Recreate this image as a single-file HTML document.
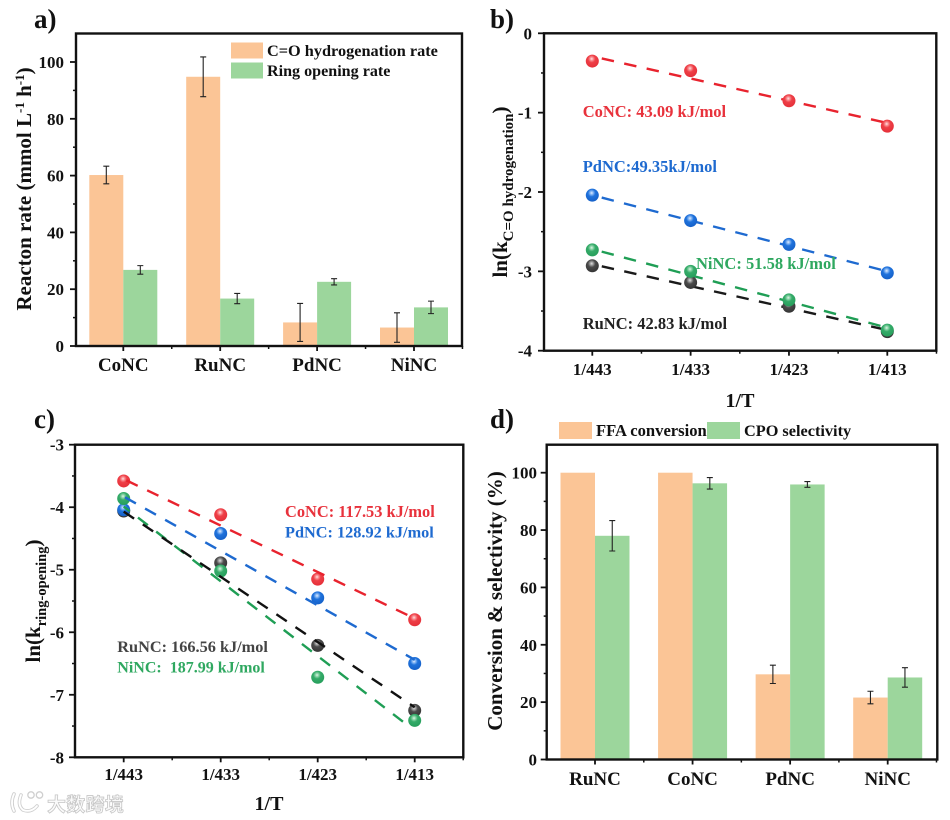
<!DOCTYPE html>
<html lang="en">
<head>
<meta charset="utf-8">
<title>Catalyst reaction rates and activation energies</title>
<style>
html,body{margin:0;padding:0;background:#fff;width:950px;height:820px;overflow:hidden}
svg{display:block;font-family:"Liberation Serif","Noto Serif CJK SC",serif;font-weight:bold;filter:blur(.35px)}
text{fill:#111;white-space:pre}
</style>
</head>
<body>
<svg id="chart" xmlns="http://www.w3.org/2000/svg" width="950" height="820" viewBox="0 0 950 820">
<defs>
<radialGradient id="ball-red" cx="45%" cy="33%" r="68%"><stop offset="0" stop-color="#ffe3e3"/><stop offset=".2" stop-color="#f98a8e"/><stop offset=".42" stop-color="#ee3f47"/><stop offset="1" stop-color="#e52f38"/></radialGradient>
<radialGradient id="ball-blue" cx="45%" cy="33%" r="68%"><stop offset="0" stop-color="#e0edff"/><stop offset=".2" stop-color="#7fb2f2"/><stop offset=".42" stop-color="#1f72dc"/><stop offset="1" stop-color="#1560c8"/></radialGradient>
<radialGradient id="ball-green" cx="45%" cy="33%" r="68%"><stop offset="0" stop-color="#dff5e7"/><stop offset=".2" stop-color="#86d2a4"/><stop offset=".42" stop-color="#35ab69"/><stop offset="1" stop-color="#269e5b"/></radialGradient>
<radialGradient id="ball-black" cx="45%" cy="33%" r="68%"><stop offset="0" stop-color="#e2e2e2"/><stop offset=".2" stop-color="#999"/><stop offset=".42" stop-color="#4b4b4b"/><stop offset="1" stop-color="#333"/></radialGradient>
</defs>
</svg>
<script>
// ---------- Panel a data ----------
const rateCategories = ['CoNC', 'RuNC', 'PdNC', 'NiNC'];
const hydrogenationRate = [60.2, 94.8, 8.3, 6.5];
const hydrogenationError = [3.1, 7, 6.7, 5.2];
const ringOpeningRate = [26.8, 16.7, 22.6, 13.6];
const ringOpeningError = [1.5, 1.8, 1.1, 2.2];
const rateTicks = [0, 20, 40, 60, 80, 100];
const rateMinorTicks = [10, 30, 50, 70, 90];

// ---------- Shared temperature categories ----------
const temperatureLabels = ['1/443', '1/433', '1/423', '1/413'];

// ---------- Panel b data ----------
const hydroCo = [-0.35, -0.47, -0.85, -1.17];
const hydroPd = [-2.04, -2.36, -2.66, -3.02];
const hydroNi = [-2.73, -3.0, -3.36, -3.74];
const hydroRu = [-2.93, -3.14, -3.44, -3.76];
const hydroFitCo = [-0.29, -1.13];
const hydroFitPd = [-2.04, -3.0];
const hydroFitNi = [-2.72, -3.71];
const hydroFitRu = [-2.91, -3.74];
const hydroTicks = [0, -1, -2, -3, -4];
const hydroMinorTicks = [-0.5, -1.5, -2.5, -3.5];

// ---------- Panel c data ----------
const ringCo = [-3.58, -4.12, -5.15, -5.80];
const ringPd = [-4.04, -4.42, -5.45, -6.5];
const ringRu = [-4.06, -4.89, -6.21, -7.25];
const ringNi = [-3.86, -5.02, -6.72, -7.41];
const ringFitCo = [-3.55, -5.78];
const ringFitPd = [-3.83, -6.44];
const ringFitRu = [-4.07, -7.2];
const ringFitNi = [-3.99, -7.48];
const ringTicks = [-3, -4, -5, -6, -7, -8];
const ringMinorTicks = [-3.5, -4.5, -5.5, -6.5, -7.5];

// ---------- Panel d data ----------
const conversionCategories = ['RuNC', 'CoNC', 'PdNC', 'NiNC'];
const ffaConversion = [100, 100, 29.7, 21.6];
const ffaError = [0, 0, 3.2, 2.2];
const cpoSelectivity = [78, 96.3, 95.9, 28.6];
const cpoError = [5.3, 2, 1, 3.4];
const conversionTicks = [0, 20, 40, 60, 80, 100];
const conversionMinorTicks = [10, 30, 50, 70, 90];

const SVG_NS = 'http://www.w3.org/2000/svg';
const root = document.getElementById('chart');
const ORANGE = '#fbc596';
const GREEN = '#9cd69c';

function make(tag, props, parent) {
  const el = document.createElementNS(SVG_NS, tag);
  for (const k in props) el.setAttribute(k, props[k]);
  (parent || root).appendChild(el);
  return el;
}
function linear(d0, d1, r0, r1) {
  return function (v) { return r0 + (v - d0) * (r1 - r0) / (d1 - d0); };
}
function label(str, x, y, size, anchor, fill, name) {
  const t = make('text', {x: x, y: y, 'font-size': size, 'text-anchor': anchor || 'start', fill: fill || '#111', style: 'fill:' + (fill || '#111')});
  t.textContent = str;
  
  
  return t;
}
function rotatedTitle(parts, x, y, size, name) {
  const t = make('text', {transform: 'translate(' + x + ',' + y + ') rotate(-90)', 'font-size': size, 'text-anchor': 'middle'});
  
  
  parts.forEach(function (p) {
    const s = make('tspan', {'font-size': p.size || size, dy: p.dy || 0}, t);
    s.textContent = p.text;
  });
  return t;
}
function frame(box, name) {
  const r = make('rect', {x: box.l, y: box.t, width: box.r - box.l, height: box.b - box.t, fill: 'none', stroke: '#111', 'stroke-width': 2.4});
  
  
}
function yTicks(box, y, majors, minors, labelRight, size, panel) {
  majors.forEach(function (v) {
    const tick = make('line', {x1: box.l, x2: box.l - 6, y1: y(v), y2: y(v), stroke: '#111', 'stroke-width': 1.8});
    
    
    label(String(v), labelRight, y(v) + 6, size, 'end', '#111', panel + '-y-tick-label');
  });
  minors.forEach(function (v) {
    const tick = make('line', {x1: box.l, x2: box.l - 3, y1: y(v), y2: y(v), stroke: '#111', 'stroke-width': 1.5});
    
    
  });
}
function xTicks(box, x, labels, baseline, size, panel) {
  labels.forEach(function (s, i) {
    const tick = make('line', {x1: x(i), x2: x(i), y1: box.b, y2: box.b + 5, stroke: '#111', 'stroke-width': 1.8});
    
    
    label(s, x(i), baseline, size, 'middle', '#111', panel + '-x-tick-label');
    const minor = make('line', {x1: x(i + 0.5), x2: x(i + 0.5), y1: box.b, y2: box.b + 3, stroke: '#111', 'stroke-width': 1.5});
    
    
  });
}
function bars(x, y, values, errors, offset, width, fill, series, cats) {
  values.forEach(function (v, i) {
    const left = x(i) + offset;
    const bar = make('rect', {x: left, y: y(v), width: width, height: y(0) - y(v), fill: fill});
    
    
  });
  values.forEach(function (v, i) {
    if (!errors[i]) return;
    const cx = x(i) + offset + width / 2;
    const top = y(v + errors[i]);
    const bot = y(v - errors[i]);
    const err = make('path', {d: 'M' + (cx - 3) + ' ' + top + 'H' + (cx + 3) + 'M' + cx + ' ' + top + 'V' + bot + 'M' + (cx - 3) + ' ' + bot + 'H' + (cx + 3), fill: 'none', stroke: '#222', 'stroke-width': 1.1});
    
    
  });
}
function fitLine(x, y, fit, endPos, color, phase, name) {
  const ln = make('line', {x1: x(0), y1: y(fit[0]), x2: x(endPos), y2: y(fit[1]), stroke: color, 'stroke-width': 2.4, 'stroke-dasharray': '12.5 10.5', 'stroke-dashoffset': -phase});
  
  
}
function points(x, y, values, ball, name) {
  values.forEach(function (v, i) {
    const c = make('circle', {cx: x(i), cy: y(v), r: 6.5, fill: 'url(#' + ball + ')'});
    
    
  });
}
function swatch(x, y, w, h, fill, name) {
  const s = make('rect', {x: x, y: y, width: w, height: h, fill: fill});
  
  
}

// ---------- Panel a ----------
(function () {
  const box = {l: 76, r: 462, t: 33.5, b: 346};
  const y = linear(0, 100, 346, 62);
  const x = linear(0, 3, 123.3, 414);
  bars(x, y, hydrogenationRate, hydrogenationError, -34, 34, ORANGE, 'hydrogenation', rateCategories);
  bars(x, y, ringOpeningRate, ringOpeningError, 0, 34, GREEN, 'ring-opening', rateCategories);
  frame(box, 'panel-a-frame');
  yTicks(box, y, rateTicks, rateMinorTicks, 64, 17, 'panel-a');
  xTicks(box, x, rateCategories, 371, 19, 'panel-a');
  rotatedTitle([
    {text: 'Reacton rate (mmol L'},
    {text: '-1', size: 13, dy: -7},
    {text: ' h', dy: 7},
    {text: '-1', size: 13, dy: -7},
    {text: ')', dy: 7}
  ], 31, 189, 21, 'panel-a-y-axis-title');
  label('a)', 34, 28, 27, 'start', '#111', 'panel-a-label');
  swatch(231, 42.5, 32, 16, ORANGE, 'legend-swatch-hydrogenation');
  swatch(231, 62.5, 32, 16, GREEN, 'legend-swatch-ring-opening');
  label('C=O hydrogenation rate', 267, 56, 16.3, 'start', '#111', 'legend-entry-hydrogenation');
  label('Ring opening rate', 267, 76, 16.1, 'start', '#111', 'legend-entry-ring-opening');
})();

// ---------- Panel b ----------
(function () {
  const box = {l: 544, r: 936.3, t: 33.3, b: 350.7};
  const y = linear(0, -4, 33.3, 350.7);
  const x = linear(0, 3, 592.3, 887.3);
  fitLine(x, y, hydroFitCo, 3, '#e8232e', 9.7, 'fit-line-conc-b');
  fitLine(x, y, hydroFitPd, 3, '#1e6ad0', 9.7, 'fit-line-pdnc-b');
  fitLine(x, y, hydroFitRu, 3, '#1a1a1a', 9.7, 'fit-line-runc-b');
  fitLine(x, y, hydroFitNi, 3, '#1f9e55', 9.7, 'fit-line-ninc-b');
  points(x, y, hydroRu, 'ball-black', 'point-runc-b');
  points(x, y, hydroNi, 'ball-green', 'point-ninc-b');
  points(x, y, hydroPd, 'ball-blue', 'point-pdnc-b');
  points(x, y, hydroCo, 'ball-red', 'point-conc-b');
  frame(box, 'panel-b-frame');
  yTicks(box, y, hydroTicks, hydroMinorTicks, 532, 17, 'panel-b');
  xTicks(box, x, temperatureLabels, 375, 17, 'panel-b');
  rotatedTitle([
    {text: 'ln(k'},
    {text: 'C=O hydrogenation', size: 15, dy: 6},
    {text: ')', dy: -6}
  ], 507, 192, 21, 'panel-b-y-axis-title');
  label('1/T', 740, 407, 20, 'middle', '#111', 'panel-b-x-axis-title');
  label('b)', 490, 28, 27, 'start', '#111', 'panel-b-label');
  label('CoNC: 43.09 kJ/mol', 582.7, 117, 16.5, 'start', '#e8323c', 'annotation-conc-b');
  label('PdNC:49.35kJ/mol', 582.7, 172, 16.5, 'start', '#1e6ad0', 'annotation-pdnc-b');
  label('NiNC: 51.58 kJ/mol', 696, 269, 16.5, 'start', '#2fa860', 'annotation-ninc-b');
  label('RuNC: 42.83 kJ/mol', 582.7, 329, 16.5, 'start', '#222', 'annotation-runc-b');
})();

// ---------- Panel c ----------
(function () {
  const box = {l: 75, r: 463.3, t: 444.7, b: 757.3};
  const y = linear(-3, -8, 444.7, 757.3);
  const x = linear(0, 3, 123.7, 414.7);
  points(x, y, ringRu, 'ball-black', 'point-runc-c');
  points(x, y, ringPd, 'ball-blue', 'point-pdnc-c');
  points(x, y, ringNi, 'ball-green', 'point-ninc-c');
  points(x, y, ringCo, 'ball-red', 'point-conc-c');
  fitLine(x, y, ringFitCo, 3, '#e8232e', 3, 'fit-line-conc-c');
  fitLine(x, y, ringFitPd, 3, '#1e6ad0', 1.5, 'fit-line-pdnc-c');
  fitLine(x, y, ringFitNi, 2.92, '#1f9e55', 18, 'fit-line-ninc-c');
  fitLine(x, y, ringFitRu, 3, '#111', 0, 'fit-line-runc-c');
  frame(box, 'panel-c-frame');
  yTicks(box, y, ringTicks, ringMinorTicks, 64, 17, 'panel-c');
  xTicks(box, x, temperatureLabels, 780, 17, 'panel-c');
  rotatedTitle([
    {text: 'ln(k'},
    {text: 'ring-opening', size: 14.5, dy: 6},
    {text: ')', dy: -6}
  ], 40, 601, 21, 'panel-c-y-axis-title');
  label('1/T', 269, 810, 20, 'middle', '#111', 'panel-c-x-axis-title');
  label('c)', 34, 428, 27, 'start', '#111', 'panel-c-label');
  label('CoNC: 117.53 kJ/mol', 285, 517, 16.4, 'start', '#e8323c', 'annotation-conc-c');
  label('PdNC: 128.92 kJ/mol', 285, 537.5, 16.3, 'start', '#1e6ad0', 'annotation-pdnc-c');
  label('RuNC: 166.56 kJ/mol', 117.3, 652, 16.3, 'start', '#444', 'annotation-runc-c');
  label('NiNC:  187.99 kJ/mol', 117.3, 672.5, 16, 'start', '#2fa860', 'annotation-ninc-c');
})();

// ---------- Panel d ----------
(function () {
  const box = {l: 546.7, r: 937.3, t: 444.7, b: 759.5};
  const y = linear(0, 100, 759.5, 472.7);
  const x = linear(0, 3, 595, 887.7);
  bars(x, y, ffaConversion, ffaError, -34.5, 34.5, ORANGE, 'ffa-conversion', conversionCategories);
  bars(x, y, cpoSelectivity, cpoError, 0, 34.5, GREEN, 'cpo-selectivity', conversionCategories);
  frame(box, 'panel-d-frame');
  yTicks(box, y, conversionTicks, conversionMinorTicks, 537, 17, 'panel-d');
  xTicks(box, x, conversionCategories, 785, 19, 'panel-d');
  rotatedTitle([{text: 'Conversion & selectivity (%)'}], 502, 601, 21, 'panel-d-y-axis-title');
  label('d)', 490, 428, 27, 'start', '#111', 'panel-d-label');
  swatch(559, 422, 33, 17, ORANGE, 'legend-swatch-ffa-conversion');
  swatch(707, 422, 33, 17, GREEN, 'legend-swatch-cpo-selectivity');
  label('FFA conversion', 596, 436, 16.6, 'start', '#111', 'legend-entry-ffa-conversion');
  label('CPO selectivity', 744, 436, 16.3, 'start', '#111', 'legend-entry-cpo-selectivity');
})();

// ---------- Watermark ----------
(function () {
  const g = make('g', {fill: 'none', 'stroke-linecap': 'round'});
  
  
  const logoShape = 'M14 794 Q10 803 14 811 M21 795 Q17 805 23 810 Q31 813 37 806';
  make('path', {d: logoShape, stroke: '#cfcfcf', 'stroke-width': 3.6}, g);
  make('path', {d: logoShape, stroke: '#fff', 'stroke-width': 1.8}, g);
  make('circle', {cx: 31, cy: 795, r: 3.2, stroke: '#cfcfcf', 'stroke-width': 1.3}, g);
  make('circle', {cx: 39.5, cy: 795, r: 3.2, stroke: '#cfcfcf', 'stroke-width': 1.3}, g);
  const t = make('text', {x: 47, y: 811, 'font-size': 19, 'letter-spacing': 0.3, style: 'fill:#fafafa;stroke:#c6c6c6;stroke-width:.8;font-family:\'Noto Sans CJK SC\',sans-serif;font-weight:bold'});
  t.textContent = '大数跨境';
  
  
})();
</script>
</body>
</html>
